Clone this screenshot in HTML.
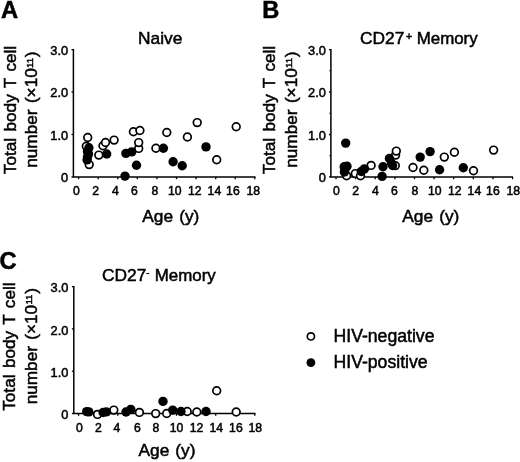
<!DOCTYPE html>
<html lang="en">
<head>
<meta charset="utf-8">
<title>Total body T cell number by age</title>
<style>
html, body { margin: 0; padding: 0; background: #fff; }
body { width: 520px; height: 462px; overflow: hidden; }
svg { display: block; }
svg text { font-family: "Liberation Sans", Arial, Helvetica, sans-serif; fill: #000; stroke: #000; stroke-width: 0.5px; }
</style>
</head>
<body>
<svg width="520" height="462" viewBox="0 0 520 462">
<rect width="520" height="462" fill="#fff"/>
<g>
<text x="0.9" y="18.2" font-size="23.7" font-weight="bold">A</text>
<text x="160.2" y="43.6" text-anchor="middle" font-size="17.35">Naive</text>
<text transform="translate(15.6,110.0) rotate(-90)" text-anchor="middle" font-size="17.2" word-spacing="1.6">Total body T cell</text>
<text transform="translate(37.4,109.6) rotate(-90)" text-anchor="middle" font-size="17.2" word-spacing="1.6">number (×10<tspan font-size="9.6" dy="-4.7" dx="0.3">11</tspan><tspan dy="4.7" dx="0.8">)</tspan></text>
<path d="M73.4 49.0V176.9H255.5" fill="none" stroke="#000" stroke-width="1.5"/>
<path d="M71.5 176.9H73.4" stroke="#000" stroke-width="1.3"/>
<text x="68.1" y="182.0" text-anchor="end" font-size="12.8">0</text>
<path d="M71.5 134.5H73.4" stroke="#000" stroke-width="1.3"/>
<text x="68.1" y="139.6" text-anchor="end" font-size="12.8">1.0</text>
<path d="M71.5 92.0H73.4" stroke="#000" stroke-width="1.3"/>
<text x="68.1" y="97.1" text-anchor="end" font-size="12.8">2.0</text>
<path d="M71.5 49.6H73.4" stroke="#000" stroke-width="1.3"/>
<text x="68.1" y="54.7" text-anchor="end" font-size="12.8">3.0</text>
<path d="M78.6 176.9V179.2" stroke="#000" stroke-width="1.3"/>
<text x="76.5" y="194.7" text-anchor="middle" font-size="12.2">0</text>
<path d="M98.2 176.9V179.2" stroke="#000" stroke-width="1.3"/>
<text x="95.7" y="194.7" text-anchor="middle" font-size="12.2">2</text>
<path d="M117.8 176.9V179.2" stroke="#000" stroke-width="1.3"/>
<text x="115.3" y="194.7" text-anchor="middle" font-size="12.2">4</text>
<path d="M137.3 176.9V179.2" stroke="#000" stroke-width="1.3"/>
<text x="134.4" y="194.7" text-anchor="middle" font-size="12.2">6</text>
<path d="M156.9 176.9V179.2" stroke="#000" stroke-width="1.3"/>
<text x="155.0" y="194.7" text-anchor="middle" font-size="12.2">8</text>
<path d="M176.5 176.9V179.2" stroke="#000" stroke-width="1.3"/>
<text x="174.8" y="194.7" text-anchor="middle" font-size="12.2">10</text>
<path d="M196.1 176.9V179.2" stroke="#000" stroke-width="1.3"/>
<text x="194.8" y="194.7" text-anchor="middle" font-size="12.2">12</text>
<path d="M215.7 176.9V179.2" stroke="#000" stroke-width="1.3"/>
<text x="214.4" y="194.7" text-anchor="middle" font-size="12.2">14</text>
<path d="M235.2 176.9V179.2" stroke="#000" stroke-width="1.3"/>
<text x="232.9" y="194.7" text-anchor="middle" font-size="12.2">16</text>
<path d="M254.8 176.9V179.2" stroke="#000" stroke-width="1.3"/>
<text x="253.2" y="194.7" text-anchor="middle" font-size="12.2">18</text>
<text x="170.8" y="221.5" text-anchor="middle" font-size="17.3" word-spacing="1.3">Age (y)</text>
<circle cx="86.3" cy="146.3" r="3.85" fill="#fff" stroke="#000" stroke-width="1.7"/>
<circle cx="87.7" cy="137.5" r="3.85" fill="#fff" stroke="#000" stroke-width="1.7"/>
<circle cx="89.2" cy="164.6" r="3.85" fill="#fff" stroke="#000" stroke-width="1.7"/>
<circle cx="103.0" cy="145.8" r="3.85" fill="#fff" stroke="#000" stroke-width="1.7"/>
<circle cx="105.5" cy="142.5" r="3.85" fill="#fff" stroke="#000" stroke-width="1.7"/>
<circle cx="114.1" cy="140.1" r="3.85" fill="#fff" stroke="#000" stroke-width="1.7"/>
<circle cx="98.8" cy="155.1" r="3.85" fill="#fff" stroke="#000" stroke-width="1.7"/>
<circle cx="133.4" cy="131.7" r="3.85" fill="#fff" stroke="#000" stroke-width="1.7"/>
<circle cx="139.9" cy="130.5" r="3.85" fill="#fff" stroke="#000" stroke-width="1.7"/>
<circle cx="138.7" cy="148.4" r="3.85" fill="#fff" stroke="#000" stroke-width="1.7"/>
<circle cx="138.7" cy="142.6" r="3.85" fill="#fff" stroke="#000" stroke-width="1.7"/>
<circle cx="155.9" cy="148.3" r="3.85" fill="#fff" stroke="#000" stroke-width="1.7"/>
<circle cx="166.8" cy="132.5" r="3.85" fill="#fff" stroke="#000" stroke-width="1.7"/>
<circle cx="197.2" cy="122.6" r="3.85" fill="#fff" stroke="#000" stroke-width="1.7"/>
<circle cx="187.4" cy="137.0" r="3.85" fill="#fff" stroke="#000" stroke-width="1.7"/>
<circle cx="236.2" cy="126.7" r="3.85" fill="#fff" stroke="#000" stroke-width="1.7"/>
<circle cx="216.7" cy="159.7" r="3.85" fill="#fff" stroke="#000" stroke-width="1.7"/>
<circle cx="88.9" cy="147.8" r="4.7" fill="#000"/>
<circle cx="87.5" cy="151.6" r="4.7" fill="#000"/>
<circle cx="88.5" cy="154.1" r="4.7" fill="#000"/>
<circle cx="87.5" cy="157.1" r="4.7" fill="#000"/>
<circle cx="87.1" cy="159.9" r="4.7" fill="#000"/>
<circle cx="106.7" cy="154.0" r="4.7" fill="#000"/>
<circle cx="125.9" cy="153.4" r="4.7" fill="#000"/>
<circle cx="131.7" cy="151.9" r="4.7" fill="#000"/>
<circle cx="125.0" cy="176.1" r="4.7" fill="#000"/>
<circle cx="136.5" cy="165.3" r="4.7" fill="#000"/>
<circle cx="163.4" cy="148.3" r="4.7" fill="#000"/>
<circle cx="173.1" cy="161.8" r="4.7" fill="#000"/>
<circle cx="182.2" cy="165.7" r="4.7" fill="#000"/>
<circle cx="206.0" cy="146.9" r="4.7" fill="#000"/>
</g>
<g>
<text x="262.3" y="18.1" font-size="23.7" font-weight="bold">B</text>
<text x="360.0" y="43.7" font-size="17.35">CD27</text><text x="405.9" y="40.0" font-size="10.5">+</text><text x="416.7" y="43.7" font-size="16.9">Memory</text>
<text transform="translate(274.9,110.0) rotate(-90)" text-anchor="middle" font-size="17.2" word-spacing="1.6">Total body T cell</text>
<text transform="translate(296.7,109.6) rotate(-90)" text-anchor="middle" font-size="17.2" word-spacing="1.6">number (×10<tspan font-size="9.6" dy="-4.7" dx="0.3">11</tspan><tspan dy="4.7" dx="0.8">)</tspan></text>
<path d="M330.9 49.0V176.9H513.0" fill="none" stroke="#000" stroke-width="1.5"/>
<path d="M329.0 176.9H330.9" stroke="#000" stroke-width="1.3"/>
<text x="325.9" y="182.0" text-anchor="end" font-size="12.8">0</text>
<path d="M329.0 134.5H330.9" stroke="#000" stroke-width="1.3"/>
<text x="325.9" y="139.6" text-anchor="end" font-size="12.8">1.0</text>
<path d="M329.0 92.0H330.9" stroke="#000" stroke-width="1.3"/>
<text x="325.9" y="97.1" text-anchor="end" font-size="12.8">2.0</text>
<path d="M329.0 49.6H330.9" stroke="#000" stroke-width="1.3"/>
<text x="325.9" y="54.7" text-anchor="end" font-size="12.8">3.0</text>
<path d="M329.4 155.7H330.9" stroke="#000" stroke-width="1"/>
<path d="M329.4 113.2H330.9" stroke="#000" stroke-width="1"/>
<path d="M329.4 70.8H330.9" stroke="#000" stroke-width="1"/>
<path d="M336.0 176.9V179.2" stroke="#000" stroke-width="1.3"/>
<text x="336.5" y="194.7" text-anchor="middle" font-size="12.2">0</text>
<path d="M355.6 176.9V179.2" stroke="#000" stroke-width="1.3"/>
<text x="355.7" y="194.7" text-anchor="middle" font-size="12.2">2</text>
<path d="M375.2 176.9V179.2" stroke="#000" stroke-width="1.3"/>
<text x="375.3" y="194.7" text-anchor="middle" font-size="12.2">4</text>
<path d="M394.9 176.9V179.2" stroke="#000" stroke-width="1.3"/>
<text x="394.4" y="194.7" text-anchor="middle" font-size="12.2">6</text>
<path d="M414.5 176.9V179.2" stroke="#000" stroke-width="1.3"/>
<text x="415.0" y="194.7" text-anchor="middle" font-size="12.2">8</text>
<path d="M434.1 176.9V179.2" stroke="#000" stroke-width="1.3"/>
<text x="434.8" y="194.7" text-anchor="middle" font-size="12.2">10</text>
<path d="M453.7 176.9V179.2" stroke="#000" stroke-width="1.3"/>
<text x="454.8" y="194.7" text-anchor="middle" font-size="12.2">12</text>
<path d="M473.3 176.9V179.2" stroke="#000" stroke-width="1.3"/>
<text x="474.4" y="194.7" text-anchor="middle" font-size="12.2">14</text>
<path d="M493.0 176.9V179.2" stroke="#000" stroke-width="1.3"/>
<text x="492.9" y="194.7" text-anchor="middle" font-size="12.2">16</text>
<path d="M512.6 176.9V179.2" stroke="#000" stroke-width="1.3"/>
<text x="513.2" y="194.7" text-anchor="middle" font-size="12.2">18</text>
<text x="430.8" y="221.5" text-anchor="middle" font-size="17.3" word-spacing="1.3">Age (y)</text>
<circle cx="346.6" cy="175.8" r="3.85" fill="#fff" stroke="#000" stroke-width="1.7"/>
<circle cx="355.3" cy="173.6" r="3.85" fill="#fff" stroke="#000" stroke-width="1.7"/>
<circle cx="360.5" cy="175.8" r="3.85" fill="#fff" stroke="#000" stroke-width="1.7"/>
<circle cx="371.1" cy="165.4" r="3.85" fill="#fff" stroke="#000" stroke-width="1.7"/>
<circle cx="395.3" cy="165.6" r="3.85" fill="#fff" stroke="#000" stroke-width="1.7"/>
<circle cx="395.6" cy="155.1" r="3.85" fill="#fff" stroke="#000" stroke-width="1.7"/>
<circle cx="396.3" cy="151.1" r="3.85" fill="#fff" stroke="#000" stroke-width="1.7"/>
<circle cx="413.0" cy="167.5" r="3.85" fill="#fff" stroke="#000" stroke-width="1.7"/>
<circle cx="423.8" cy="170.2" r="3.85" fill="#fff" stroke="#000" stroke-width="1.7"/>
<circle cx="444.3" cy="157.1" r="3.85" fill="#fff" stroke="#000" stroke-width="1.7"/>
<circle cx="454.4" cy="152.2" r="3.85" fill="#fff" stroke="#000" stroke-width="1.7"/>
<circle cx="473.5" cy="170.8" r="3.85" fill="#fff" stroke="#000" stroke-width="1.7"/>
<circle cx="493.6" cy="150.1" r="3.85" fill="#fff" stroke="#000" stroke-width="1.7"/>
<circle cx="345.7" cy="143.1" r="4.7" fill="#000"/>
<circle cx="344.2" cy="166.8" r="4.7" fill="#000"/>
<circle cx="347.0" cy="166.2" r="4.7" fill="#000"/>
<circle cx="345.0" cy="169.5" r="4.7" fill="#000"/>
<circle cx="344.4" cy="172.0" r="4.7" fill="#000"/>
<circle cx="364.4" cy="168.9" r="4.7" fill="#000"/>
<circle cx="361.3" cy="171.5" r="4.7" fill="#000"/>
<circle cx="383.0" cy="166.7" r="4.7" fill="#000"/>
<circle cx="382.1" cy="176.4" r="4.7" fill="#000"/>
<circle cx="389.4" cy="158.5" r="4.7" fill="#000"/>
<circle cx="391.4" cy="163.0" r="4.7" fill="#000"/>
<circle cx="392.6" cy="165.5" r="4.7" fill="#000"/>
<circle cx="420.2" cy="157.1" r="4.7" fill="#000"/>
<circle cx="430.1" cy="151.6" r="4.7" fill="#000"/>
<circle cx="439.6" cy="169.8" r="4.7" fill="#000"/>
<circle cx="463.3" cy="167.7" r="4.7" fill="#000"/>
</g>
<g>
<text x="-0.5" y="268.9" font-size="23.7" font-weight="bold">C</text>
<text x="102.0" y="281.4" font-size="17.35">CD27</text><text x="146.3" y="275.7" font-size="9.5">-</text><text x="154.8" y="281.4" font-size="16.9">Memory</text>
<text transform="translate(14.7,346.6) rotate(-90)" text-anchor="middle" font-size="17.2" word-spacing="1.6">Total body T cell</text>
<text transform="translate(36.5,346.2) rotate(-90)" text-anchor="middle" font-size="17.2" word-spacing="1.6">number (×10<tspan font-size="9.6" dy="-4.7" dx="0.3">11</tspan><tspan dy="4.7" dx="0.8">)</tspan></text>
<path d="M73.8 286.0V413.5H255.5" fill="none" stroke="#000" stroke-width="1.5"/>
<path d="M71.9 413.5H73.8" stroke="#000" stroke-width="1.3"/>
<text x="68.4" y="419.1" text-anchor="end" font-size="12.8">0</text>
<path d="M71.9 371.2H73.8" stroke="#000" stroke-width="1.3"/>
<text x="68.4" y="376.8" text-anchor="end" font-size="12.8">1.0</text>
<path d="M71.9 328.9H73.8" stroke="#000" stroke-width="1.3"/>
<text x="68.4" y="334.5" text-anchor="end" font-size="12.8">2.0</text>
<path d="M71.9 286.6H73.8" stroke="#000" stroke-width="1.3"/>
<text x="68.4" y="292.2" text-anchor="end" font-size="12.8">3.0</text>
<path d="M78.6 413.5V415.8" stroke="#000" stroke-width="1.3"/>
<text x="79.4" y="432.4" text-anchor="middle" font-size="12.2">0</text>
<path d="M98.2 413.5V415.8" stroke="#000" stroke-width="1.3"/>
<text x="98.3" y="432.4" text-anchor="middle" font-size="12.2">2</text>
<path d="M117.8 413.5V415.8" stroke="#000" stroke-width="1.3"/>
<text x="117.0" y="432.4" text-anchor="middle" font-size="12.2">4</text>
<path d="M137.3 413.5V415.8" stroke="#000" stroke-width="1.3"/>
<text x="137.3" y="432.4" text-anchor="middle" font-size="12.2">6</text>
<path d="M156.9 413.5V415.8" stroke="#000" stroke-width="1.3"/>
<text x="155.9" y="432.4" text-anchor="middle" font-size="12.2">8</text>
<path d="M176.5 413.5V415.8" stroke="#000" stroke-width="1.3"/>
<text x="176.6" y="432.4" text-anchor="middle" font-size="12.2">10</text>
<path d="M196.1 413.5V415.8" stroke="#000" stroke-width="1.3"/>
<text x="196.6" y="432.4" text-anchor="middle" font-size="12.2">12</text>
<path d="M215.7 413.5V415.8" stroke="#000" stroke-width="1.3"/>
<text x="216.3" y="432.4" text-anchor="middle" font-size="12.2">14</text>
<path d="M235.2 413.5V415.8" stroke="#000" stroke-width="1.3"/>
<text x="235.9" y="432.4" text-anchor="middle" font-size="12.2">16</text>
<path d="M254.8 413.5V415.8" stroke="#000" stroke-width="1.3"/>
<text x="255.3" y="432.4" text-anchor="middle" font-size="12.2">18</text>
<text x="167.0" y="455.9" text-anchor="middle" font-size="17.3" word-spacing="1.3">Age (y)</text>
<circle cx="97.5" cy="414.4" r="3.85" fill="#fff" stroke="#000" stroke-width="1.7"/>
<circle cx="113.8" cy="410.1" r="3.85" fill="#fff" stroke="#000" stroke-width="1.7"/>
<circle cx="139.4" cy="412.4" r="3.85" fill="#fff" stroke="#000" stroke-width="1.7"/>
<circle cx="155.7" cy="413.6" r="3.85" fill="#fff" stroke="#000" stroke-width="1.7"/>
<circle cx="166.7" cy="413.5" r="3.85" fill="#fff" stroke="#000" stroke-width="1.7"/>
<circle cx="187.2" cy="411.5" r="3.85" fill="#fff" stroke="#000" stroke-width="1.7"/>
<circle cx="196.8" cy="412.0" r="3.85" fill="#fff" stroke="#000" stroke-width="1.7"/>
<circle cx="216.7" cy="390.8" r="3.85" fill="#fff" stroke="#000" stroke-width="1.7"/>
<circle cx="236.2" cy="412.0" r="3.85" fill="#fff" stroke="#000" stroke-width="1.7"/>
<circle cx="86.7" cy="411.6" r="4.7" fill="#000"/>
<circle cx="88.8" cy="411.9" r="4.7" fill="#000"/>
<circle cx="103.1" cy="412.5" r="4.7" fill="#000"/>
<circle cx="106.3" cy="411.9" r="4.7" fill="#000"/>
<circle cx="126.0" cy="412.0" r="4.7" fill="#000"/>
<circle cx="130.8" cy="409.4" r="4.7" fill="#000"/>
<circle cx="163.0" cy="401.4" r="4.7" fill="#000"/>
<circle cx="172.7" cy="410.1" r="4.7" fill="#000"/>
<circle cx="181.0" cy="411.5" r="4.7" fill="#000"/>
<circle cx="206.0" cy="411.5" r="4.7" fill="#000"/>
</g>
<g>
<circle cx="310.9" cy="336.4" r="3.6" fill="#fff" stroke="#000" stroke-width="1.7"/>
<circle cx="310.9" cy="362.7" r="4.4" fill="#000"/>
<text x="333.5" y="341.8" font-size="17.65">HIV-negative</text>
<text x="333.5" y="367.8" font-size="17.65">HIV-positive</text>
</g>
</svg>
</body>
</html>
